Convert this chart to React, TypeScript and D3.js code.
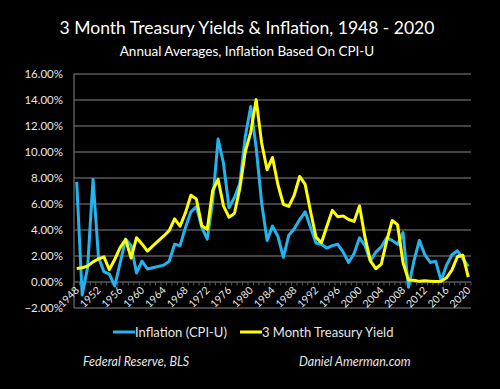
import { useEffect, useRef } from 'react';
import * as d3 from 'd3';

const years = d3.range(1948, 2021);

// Inflation (CPI-U), annual average %
const inflation = [
  7.7, -1.0, 1.1, 7.9, 1.9, 0.8, 0.6, -0.3, 1.5, 3.3,
  2.8, 0.7, 1.6, 1.0, 1.1, 1.2, 1.3, 1.6, 2.9, 2.8,
  4.2, 5.4, 5.8, 4.2, 3.3, 6.2, 11.0, 9.1, 5.7, 6.5,
  7.6, 11.2, 13.5, 10.3, 6.1, 3.2, 4.3, 3.5, 1.9, 3.6,
  4.1, 4.8, 5.4, 4.2, 3.0, 2.9, 2.6, 2.8, 2.9, 2.3,
  1.5, 2.2, 3.4, 2.8, 1.6, 2.3, 2.7, 3.4, 3.2, 2.9,
  3.8, -0.4, 1.6, 3.2, 2.1, 1.5, 1.6, 0.1, 1.3, 2.1,
  2.4, 1.8, 1.2,
];

// 3 Month Treasury yield, annual average %
const tbill = [
  1.04, 1.10, 1.22, 1.55, 1.77, 1.93, 0.95, 1.75, 2.66, 3.27,
  1.84, 3.41, 2.93, 2.38, 2.78, 3.16, 3.54, 3.95, 4.86, 4.29,
  5.34, 6.67, 6.39, 4.33, 4.06, 7.04, 7.89, 5.84, 4.99, 5.27,
  7.22, 10.04, 11.51, 14.03, 10.69, 8.63, 9.58, 7.48, 5.98, 5.82,
  6.69, 8.12, 7.51, 5.42, 3.45, 3.02, 4.29, 5.51, 5.02, 5.07,
  4.81, 4.66, 5.85, 3.45, 1.62, 1.02, 1.38, 3.16, 4.73, 4.41,
  1.48, 0.16, 0.14, 0.05, 0.09, 0.06, 0.03, 0.05, 0.32, 0.93,
  1.94, 2.06, 0.37,
];

const yTicks = [-2, 0, 2, 4, 6, 8, 10, 12, 14, 16];
const xLabelYears = d3.range(1948, 2021, 4);

const blue = '#22b4ee';
const yellow = '#ffff00';
const grid = '#5a5a5a';
const font = 'Lato, "Open Sans", sans-serif';

const W = 500;
const H = 389;
const margin = { left: 74, right: 29, top: 74, bottom: 82 };

function drawChart(el: SVGSVGElement) {
  const svg = d3.select(el);
  svg.selectAll('*').remove();

  svg.append('rect').attr('width', W).attr('height', H).attr('fill', '#000');

  const x = d3.scaleBand<number>()
    .domain(years)
    .range([margin.left, W - margin.right]);

  const y = d3.scaleLinear()
    .domain([-2, 16])
    .range([H - margin.bottom + 1, margin.top]);

  // titles
  svg.append('text')
    .attr('x', 247).attr('y', 34)
    .attr('text-anchor', 'middle')
    .attr('font-family', font).attr('font-size', 17.5)
    .attr('fill', '#fff')
    .text('3 Month Treasury Yields & Inflation, 1948 - 2020');

  svg.append('text')
    .attr('x', 247).attr('y', 56)
    .attr('text-anchor', 'middle')
    .attr('font-family', font).attr('font-size', 13.5)
    .attr('fill', '#fff')
    .text('Annual Averages, Inflation Based On CPI-U');

  // gridlines
  svg.append('g')
    .selectAll('line')
    .data(yTicks.filter(d => d !== 0))
    .join('line')
    .attr('x1', margin.left).attr('x2', W - margin.right)
    .attr('y1', d => y(d)).attr('y2', d => y(d))
    .attr('stroke', grid).attr('stroke-width', 1.5);

  // y axis line
  svg.append('line')
    .attr('x1', margin.left).attr('x2', margin.left)
    .attr('y1', y(16)).attr('y2', y(-2))
    .attr('stroke', grid).attr('stroke-width', 1.5);

  // y labels
  svg.append('g')
    .selectAll('text')
    .data(yTicks)
    .join('text')
    .attr('x', 63)
    .attr('y', d => y(d) + 4)
    .attr('text-anchor', 'end')
    .attr('font-family', font).attr('font-size', 11.5)
    .attr('fill', '#e6e6e6')
    .text(d => d3.format('.2f')(d) + '%');

  // x axis at 0 with a tick for every year
  const y0 = y(0);
  svg.append('line')
    .attr('x1', margin.left).attr('x2', W - margin.right)
    .attr('y1', y0).attr('y2', y0)
    .attr('stroke', grid).attr('stroke-width', 1.5);

  const bw = x.bandwidth();
  svg.append('g')
    .selectAll('line')
    .data([...years, 2021])
    .join('line')
    .attr('x1', d => (d === 2021 ? W - margin.right : (x(d) as number)))
    .attr('x2', d => (d === 2021 ? W - margin.right : (x(d) as number)))
    .attr('y1', y0).attr('y2', y0 + 3.5)
    .attr('stroke', grid).attr('stroke-width', 1);

  svg.append('g')
    .selectAll('text')
    .data(xLabelYears)
    .join('text')
    .attr('transform', d => `translate(${(x(d) as number) + bw / 2 + 3},${y0 + 9}) rotate(-45)`)
    .attr('text-anchor', 'end')
    .attr('font-family', font).attr('font-size', 10.5)
    .attr('fill', '#e6e6e6')
    .text(d => d);

  const line = d3.line<number>()
    .x((d, i) => (x(years[i]) as number) + bw / 2)
    .y(d => y(d))
    .curve(d3.curveLinear);

  svg.append('path')
    .attr('d', line(inflation))
    .attr('fill', 'none')
    .attr('stroke', blue).attr('stroke-width', 3)
    .attr('stroke-linejoin', 'round');

  svg.append('path')
    .attr('d', line(tbill))
    .attr('fill', 'none')
    .attr('stroke', yellow).attr('stroke-width', 3)
    .attr('stroke-linejoin', 'round');

  // legend
  const legend = [
    { label: 'Inflation (CPI-U)', color: blue, x: 113 },
    { label: '3 Month Treasury Yield', color: yellow, x: 240 },
  ];
  const lg = svg.append('g')
    .selectAll('g')
    .data(legend)
    .join('g')
    .attr('transform', d => `translate(${d.x},332)`);
  lg.append('line')
    .attr('x1', 0).attr('x2', 22)
    .attr('y1', 0).attr('y2', 0)
    .attr('stroke', d => d.color).attr('stroke-width', 3);
  lg.append('text')
    .attr('x', 22).attr('y', 4.5)
    .attr('font-family', font).attr('font-size', 13)
    .attr('fill', '#e6e6e6')
    .text(d => d.label);

  // source lines
  svg.append('text')
    .attr('x', 83).attr('y', 366)
    .attr('font-family', font).attr('font-size', 12.5)
    .attr('font-style', 'italic')
    .attr('fill', '#e6e6e6')
    .text('Federal Reserve, BLS');

  svg.append('text')
    .attr('x', 299).attr('y', 366)
    .attr('font-family', font).attr('font-size', 12.5)
    .attr('font-style', 'italic')
    .attr('fill', '#e6e6e6')
    .text('Daniel Amerman.com');
}

export default function App() {
  const ref = useRef<SVGSVGElement>(null);

  useEffect(() => {
    if (ref.current) drawChart(ref.current);
  }, []);

  return (
    <svg
      ref={ref}
      width={W}
      height={H}
      style={{ position: 'absolute', left: 0, top: 0, display: 'block' }}
    />
  );
}
